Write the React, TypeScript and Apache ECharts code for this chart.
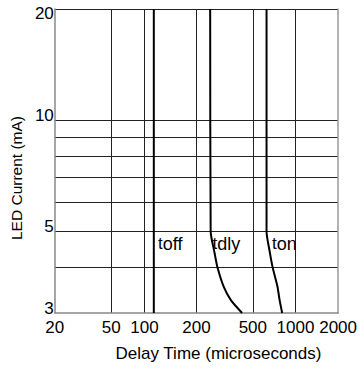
import React, { useEffect, useRef } from 'react';
import * as echarts from 'echarts';

// X axis (log) tick labels — note the original places its "100" grid line at ~86
const xLabelValues = [20, 50, 86, 200, 500, 1000, 2000];
const xLabelTexts = ['20', '50', '100', '200', '500', '1000', '2000'];
const xGridValues = [50, 86, 200, 500, 1000];

// Y axis (log)
const yLabelValues = [3, 5, 10, 20];
const yGridValues = [4, 5, 6, 7, 8, 9, 10, 20];

// Curves (delay time in µs vs LED current in mA)
const toffX = [100, 100];
const toffY = [20, 3];
const tdlyX = [250, 252, 269, 281, 312, 350, 420];
const tdlyY = [20, 5.0, 4.35, 4.0, 3.53, 3.25, 3.0];
const tonX = [625, 625, 658, 689, 745, 773, 806];
const tonY = [20, 5.0, 4.4, 4.0, 3.55, 3.25, 3.0];

// Curve annotations
const annotNames = ['off', 'dly', 'on'];
const annotX = [107, 260, 683];
const annotY = [4.62, 4.62, 4.62];

const FONT = 'Liberation Sans, Arial, sans-serif';

function zip(xs: number[], ys: number[]) {
  return xs.map((x, i) => [x, ys[i]]);
}

export default function App() {
  const ref = useRef<HTMLDivElement>(null);
  useEffect(() => {
    document.body.style.margin = '0';
    const chart = echarts.init(ref.current!, null, { renderer: 'svg' });
    const curves = [
      { x: toffX, y: toffY },
      { x: tdlyX, y: tdlyY },
      { x: tonX, y: tonY },
    ];
    const series: any[] = curves.map((c, i) => ({
      type: 'line',
      data: zip(c.x, c.y),
      showSymbol: false,
      symbol: 'none',
      smooth: 0.25,
      lineStyle: { color: '#000', width: 2 },
      silent: true,
      markPoint: {
        symbol: 'circle',
        symbolSize: 0,
        silent: true,
        data: [
          {
            coord: [annotX[i], annotY[i]],
            label: {
              show: true,
              position: 'inside',
              align: 'left',
              verticalAlign: 'middle',
              formatter: `{t|t}{s|${annotNames[i]}}`,
              rich: {
                t: { fontSize: 17, fontFamily: FONT, color: '#000', verticalAlign: 'top', lineHeight: 17 },
                s: { fontSize: 18, fontFamily: FONT, color: '#000', verticalAlign: 'bottom', lineHeight: 18, padding: [5, 0, 0, 0] },
              },
            },
          },
        ],
      },
    }));
    chart.setOption({
      animation: false,
      grid: { left: 54, right: 13, top: 9, bottom: 56 },
      xAxis: {
        type: 'log',
        logBase: 10,
        min: 20,
        max: 2000,
        name: 'Delay Time (microseconds)',
        nameLocation: 'middle',
        nameGap: 32,
        nameTextStyle: { fontSize: 17, fontFamily: FONT, color: '#000', padding: [0, 0, 0, 44] },
        axisLine: { show: true, lineStyle: { color: '#888', width: 1.5 } },
        axisTick: { show: false, customValues: xGridValues },
        splitLine: { show: true, lineStyle: { color: '#222', width: 1 } },
        axisLabel: {
          customValues: xLabelValues,
          margin: 6,
          fontSize: 17,
          fontFamily: FONT,
          color: '#000',
          formatter: (v: number) => {
            const i = xLabelValues.findIndex((t) => Math.abs(t - v) < 0.5);
            return i >= 0 ? xLabelTexts[i] : '';
          },
        },
      },
      yAxis: [
        {
          type: 'log',
          logBase: 10,
          min: 3,
          max: 20,
          name: 'LED Current (mA)',
          nameLocation: 'middle',
          nameGap: 24,
          nameTextStyle: { fontSize: 15.5, fontFamily: FONT, color: '#000', padding: [0, 34, 0, 0] },
          axisLine: { show: true, lineStyle: { color: '#888', width: 1.5 } },
          axisTick: { show: false, customValues: yGridValues },
          splitLine: { show: true, lineStyle: { color: '#222', width: 1 } },
          axisLabel: {
            customValues: yLabelValues,
            margin: 1,
            fontSize: 17,
            fontFamily: FONT,
            color: '#000',
            formatter: (v: number) => {
              const r = Math.round(v);
              return r === 20 ? `{top|${r}}` : `{n|${r}}`;
            },
            rich: {
              top: { fontSize: 17, fontFamily: FONT, color: '#000', padding: [9, 0, 0, 0] },
              n: { fontSize: 17, fontFamily: FONT, color: '#000', padding: [0, 0, 9, 0] },
            },
          },
        },
        {
          type: 'log',
          logBase: 10,
          min: 3,
          max: 20,
          position: 'right',
          axisLine: { show: true, lineStyle: { color: '#999', width: 1.5 } },
          axisTick: { show: false },
          axisLabel: { show: false },
          splitLine: { show: false },
        },
      ],
      series,
    });
    return () => chart.dispose();
  }, []);
  return <div ref={ref} style={{ width: 360, height: 369 }} />;
}
